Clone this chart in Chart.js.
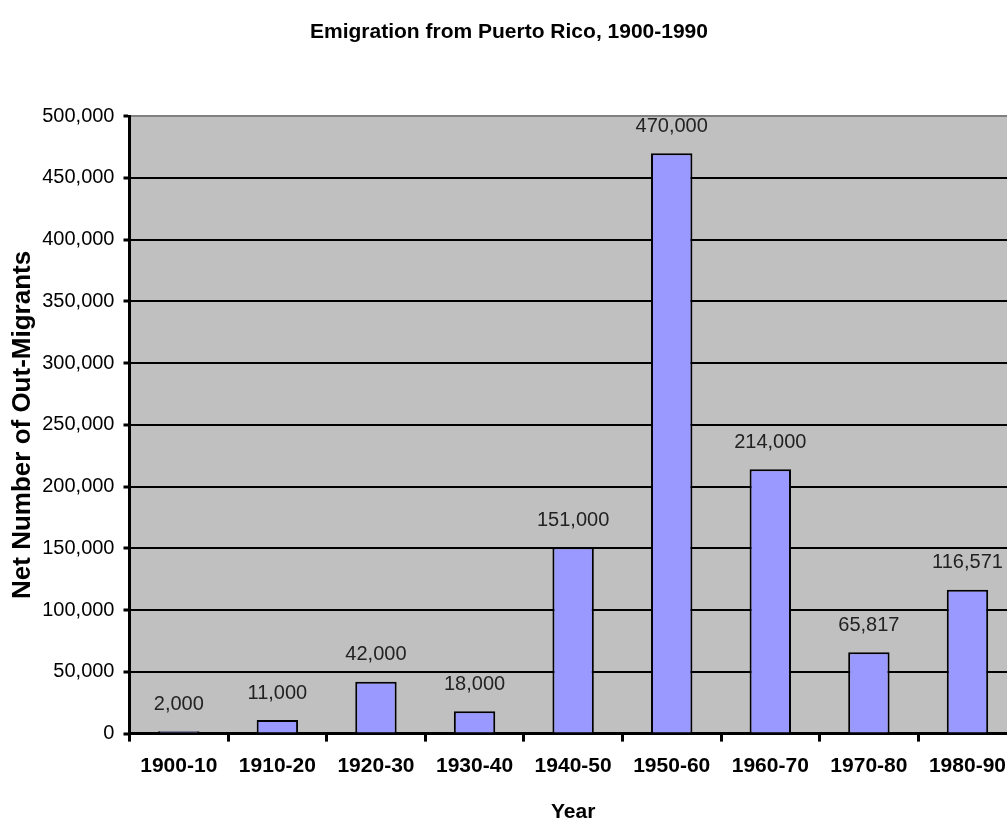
<!DOCTYPE html>
<html>
<head>
<meta charset="utf-8">
<script src="https://cdn.jsdelivr.net/npm/chart.js@4/dist/chart.umd.min.js"></script>
<style>
  html, body { margin: 0; padding: 0; background: #fff; overflow: hidden; }
  /* the original chart is a little wider than the window and gets cut off on the right */
  #wrap { width: 1018px; height: 822px; }
</style>
</head>
<body>
<div id="wrap"><canvas id="emigChart"></canvas></div>
<script>
// decades and net out-migrants
const decades = ['1900-10', '1910-20', '1920-30', '1930-40', '1940-50', '1950-60', '1960-70', '1970-80', '1980-90'];
const outMigrants = [2000, 11000, 42000, 18000, 151000, 470000, 214000, 65817, 116571];
const yTicks = [0, 50000, 100000, 150000, 200000, 250000, 300000, 350000, 400000, 450000, 500000];

const fmt = v => v.toLocaleString('en-US');
const FONT = '"Liberation Sans", Arial, sans-serif';

// grey plot background
const plotBg = {
  id: 'plotBg',
  beforeDraw(chart) {
    const { ctx, chartArea: a } = chart;
    ctx.save();
    ctx.fillStyle = '#C0C0C0';
    ctx.fillRect(a.left, a.top, a.right - a.left, a.bottom - a.top);
    ctx.restore();
  }
};

// value labels above each bar
const valueLabels = {
  id: 'valueLabels',
  afterDatasetsDraw(chart) {
    const { ctx } = chart;
    const meta = chart.getDatasetMeta(0);
    ctx.save();
    ctx.font = '20px ' + FONT;
    ctx.fillStyle = '#222';
    ctx.textAlign = 'center';
    ctx.textBaseline = 'middle';
    meta.data.forEach((bar, i) => {
      ctx.fillText(fmt(outMigrants[i]), bar.x, bar.y - 27);
    });
    ctx.restore();
  }
};

const ctx = document.getElementById('emigChart').getContext('2d');
new Chart(ctx, {
  type: 'bar',
  data: {
    labels: decades,
    datasets: [{
      data: outMigrants,
      backgroundColor: '#9999FF',
      borderColor: '#000',
      borderWidth: 2,
      barPercentage: 0.84,
      categoryPercentage: 0.5
    }]
  },
  options: {
    responsive: true,
    maintainAspectRatio: false,
    animation: false,
    layout: { padding: 0 },
    plugins: {
      legend: { display: false },
      tooltip: { enabled: false },
      title: {
        display: true,
        text: 'Emigration from Puerto Rico, 1900-1990',
        color: '#000',
        font: { family: FONT, size: 21, weight: 'bold' },
        padding: { top: 20, bottom: 71 }
      }
    },
    scales: {
      x: {
        grid: {
          drawOnChartArea: false,
          drawTicks: true,
          tickLength: 8,
          tickWidth: 3,
          color: '#000'
        },
        border: { color: '#000', width: 3 },
        ticks: {
          color: '#000',
          padding: 12,
          font: { family: FONT, size: 21, weight: 'bold' }
        },
        title: {
          display: true,
          text: 'Year',
          color: '#000',
          font: { family: FONT, size: 21, weight: 'bold' },
          padding: { top: 9, bottom: -3 }
        }
      },
      y: {
        min: 0,
        max: 500000,
        afterBuildTicks: axis => { axis.ticks = yTicks.map(v => ({ value: v })); },
        grid: {
          color: c => (c.tick && c.tick.value === 500000 ? '#808080' : '#000'),
          lineWidth: 2,
          tickLength: 6,
          tickWidth: 3,
          tickColor: '#000'
        },
        border: { color: '#000', width: 3 },
        ticks: {
          color: '#000',
          padding: 9,
          callback: v => fmt(v),
          font: { family: FONT, size: 20 }
        },
        title: {
          display: true,
          text: 'Net Number of Out-Migrants',
          color: '#000',
          font: { family: FONT, size: 26, weight: 'bold' },
          padding: { top: 7, bottom: -5 }
        }
      }
    }
  },
  plugins: [plotBg, valueLabels]
});
</script>
</body>
</html>
